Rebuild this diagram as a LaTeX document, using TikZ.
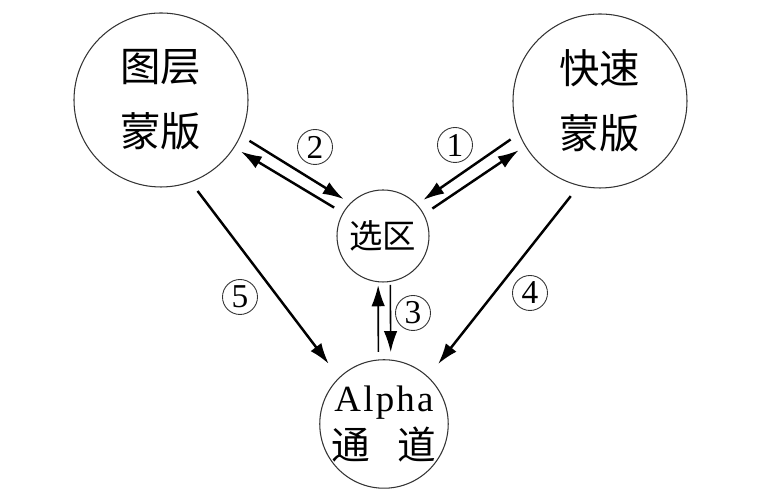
\documentclass[tikz,border=0pt]{standalone}
\usepackage{fontspec}
\setmainfont{Liberation Serif}
\newfontfamily\cjk{Noto Sans CJK SC}
\newfontfamily\alphafont[LetterSpace=6]{Liberation Serif}
\usepackage{tikz}
\usetikzlibrary{shapes}
\usetikzlibrary{arrows.meta}

\begin{document}
\begin{tikzpicture}[
    >={Latex[length=4.2mm,width=2.7mm]},
    bigcircle/.style={
        draw=black!80,
        circle,
        line width=0.6pt,
        minimum size=3.48cm,
        inner sep=0pt,
        align=center,
        font=\cjk\fontsize{23}{37}\selectfont
    },
    selcircle/.style={
        draw=black!80,
        circle,
        line width=0.6pt,
        minimum size=1.84cm,
        inner sep=0pt,
        align=center,
        font=\cjk\fontsize{19}{20}\selectfont
    },
    alphacircle/.style={
        draw=black!80,
        circle,
        line width=0.6pt,
        minimum size=2.56cm,
        inner sep=0pt,
        align=center
    },
    num/.style={
        draw=black!80,
        circle,
        line width=0.5pt,
        minimum size=0.7cm,
        inner sep=0pt,
        font=\fontsize{19}{19}\selectfont
    },
    arrow/.style={->, line width=1.4pt, shorten <=0.2cm, shorten >=0.15cm},
    thinarrow/.style={->, line width=0.9pt, shorten <=0.15cm, shorten >=0.06cm}
]
\useasboundingbox (0,0) rectangle (15.14,10);

% Main nodes
\node[bigcircle] (layer) at (3.22,8.0) {图层\\蒙版};
\node[bigcircle] (quick) at (12.0,7.98) {快速\\蒙版};
\node[selcircle] (sel) at (7.66,5.28) {选区};
\node[alphacircle] (alpha) at (7.68,1.52)
    {\alphafont\fontsize{21}{28}\selectfont Alpha\\[0.1cm]\cjk\fontsize{22}{28}\selectfont 通\hspace{0.7em}道};

% Step numbers
\node[num] (n1) at (9.10,7.10) {1};
\node[num] (n2) at (6.30,7.06) {2};
\node[num] (n3) at (8.26,3.74) {3};
\node[num] (n4) at (10.60,4.14) {4};
\node[num] (n5) at (4.80,4.06) {5};

% Arrows
\draw[arrow] (layer.-24) -- (sel.135);
\draw[arrow] (sel.150) -- (layer.-33);
\draw[arrow] (quick.202) -- (sel.43);
\draw[arrow] (sel.28) -- (quick.211);
\draw[thinarrow] (alpha.95) -- (sel.-96);
\draw[thinarrow, shorten <=0.06cm, shorten >=0.15cm] (sel.-81) -- (alpha.84);
\draw[arrow, shorten <=0.22cm, shorten >=0.34cm] (layer.-70) -- (alpha.134);
\draw[arrow, shorten <=0.26cm, shorten >=0.32cm] (quick.-104) -- (alpha.47);

\end{tikzpicture}
\end{document}
